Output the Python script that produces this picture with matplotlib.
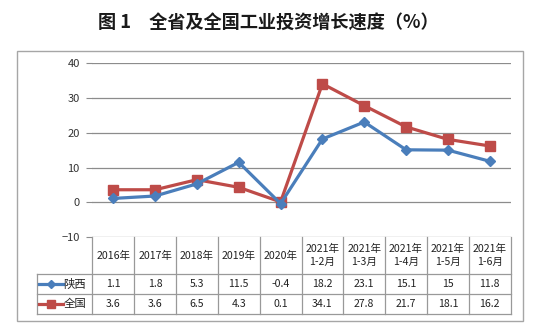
import matplotlib
matplotlib.use("Agg")
import matplotlib.pyplot as plt
from matplotlib.patches import Rectangle
from matplotlib.lines import Line2D
import matplotlib.transforms as mtransforms

plt.rcParams['font.family'] = ['Noto Sans CJK SC', 'DejaVu Sans']

categories = ["2016年", "2017年", "2018年", "2019年", "2020年",
              "2021年\n1-2月", "2021年\n1-3月", "2021年\n1-4月", "2021年\n1-5月", "2021年\n1-6月"]
shaanxi = [1.1, 1.8, 5.3, 11.5, -0.4, 18.2, 23.1, 15.1, 15, 11.8]
national = [3.6, 3.6, 6.5, 4.3, 0.1, 34.1, 27.8, 21.7, 18.1, 16.2]
series_names = ["陕西", "全国"]
yticks = [-10, 0, 10, 20, 30, 40]
title = "图 1　全省及全国工业投资增长速度（%）"

blue = "#4A7EBB"
red = "#BE4B48"
grid_c = "#8C8C8C"
tab_c = "#999999"

W, H = 541, 328
fig = plt.figure(figsize=(W / 100, H / 100), dpi=100)

# outer frame
fig.patches.append(Rectangle((16.7 / W, 1 - 320.7 / H), (523.3 - 16.7) / W, (320.7 - 50.7) / H,
                             transform=fig.transFigure, fill=False, edgecolor="#A6A6A6", linewidth=1.0))

fig.text(268 / W, 1 - 23 / H, title, ha="center", va="center", fontsize=13.1, fontweight="bold", color="#1a1a1a")

left_px, right_px, top_px, bot_px = 92.3, 510.7, 63.3, 237.0
ax = fig.add_axes([left_px / W, 1 - bot_px / H, (right_px - left_px) / W, (bot_px - top_px) / H])
n = len(categories)
x = list(range(n))
ax.set_xlim(-0.5, n - 0.5)
ax.set_ylim(min(yticks), max(yticks))
ax.set_yticks(yticks)
ax.set_xticks([])
ax.tick_params(axis="y", length=4, width=0.8, color=grid_c, labelsize=8, pad=5, labelcolor="#333333")
for s in ["top", "right", "bottom", "left"]:
    ax.spines[s].set_visible(False)
for t in yticks:
    ax.axhline(t, color=grid_c, linewidth=0.9, zorder=1)

ax.plot(x, national, color=red, linewidth=2.3, marker="s", markersize=7.5, zorder=3)
ax.plot(x, shaanxi, color=blue, linewidth=2.3, marker="D", markersize=5, zorder=4)

# table below, x in data coords, y in axes fraction
trans = mtransforms.blended_transform_factory(ax.transData, ax.transAxes)
ax_h = bot_px - top_px
px_per_unit = (right_px - left_px) / n
y_head_bot = -(274 - bot_px) / ax_h
y_r1_bot = -(294 - bot_px) / ax_h
y_r2_bot = -(314.3 - bot_px) / ax_h
x_lab_left = -0.5 - (left_px - 36.7) / px_per_unit

def hline(y, x0, x1):
    ax.add_line(Line2D([x0, x1], [y, y], transform=trans, color=tab_c, linewidth=0.9, clip_on=False))

def vline(xv, y0, y1):
    ax.add_line(Line2D([xv, xv], [y0, y1], transform=trans, color=tab_c, linewidth=0.9, clip_on=False))

hline(y_head_bot, x_lab_left, n - 0.5)
hline(y_r1_bot, x_lab_left, n - 0.5)
hline(y_r2_bot, x_lab_left, n - 0.5)
vline(x_lab_left, y_head_bot, y_r2_bot)
for i in range(n + 1):
    vline(i - 0.5, 0, y_r2_bot)

for i, c in enumerate(categories):
    ax.text(i, y_head_bot / 2, c, transform=trans, ha="center", va="center", fontsize=7.6,
            color="#222222", linespacing=1.45)

rows = [(shaanxi, blue, "D", 4), (national, red, "s", 5.5)]
row_mid = [(y_head_bot + y_r1_bot) / 2, (y_r1_bot + y_r2_bot) / 2]
for (vals, col, mk, ms), ym, name in zip(rows, row_mid, series_names):
    for i, v in enumerate(vals):
        ax.text(i, ym, f"{v:g}", transform=trans, ha="center", va="center", fontsize=7.6, color="#222222")
    lx0 = x_lab_left + 2.5 / px_per_unit
    lx1 = x_lab_left + 26 / px_per_unit
    ax.add_line(Line2D([lx0, lx1], [ym, ym], transform=trans, color=col, linewidth=2.3, clip_on=False))
    ax.add_line(Line2D([(lx0 + lx1) / 2], [ym], transform=trans, color=col, marker=mk,
                       markersize=ms, clip_on=False))
    ax.text(lx1 + 0.5 / px_per_unit, ym, name, transform=trans, ha="left", va="center",
            fontsize=8.2, color="#222222")

fig.savefig("out.png", dpi=100)
